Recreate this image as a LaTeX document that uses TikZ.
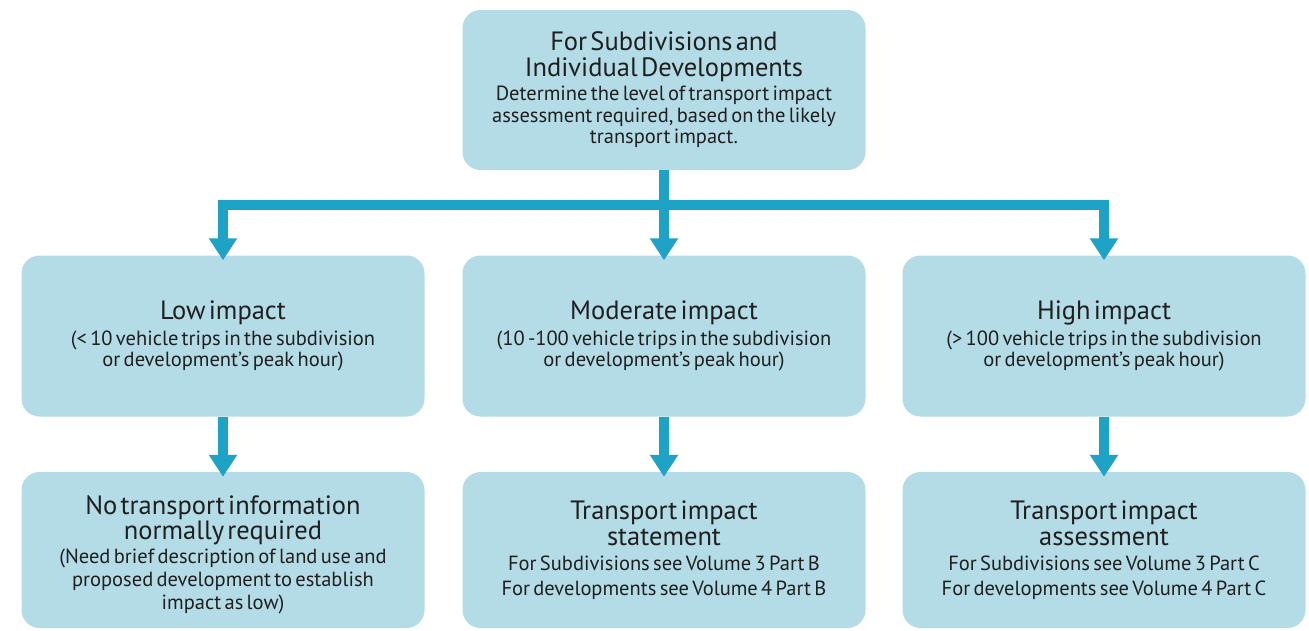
\documentclass[tikz,border=0pt]{standalone}
\usepackage{fontspec}
\setmainfont{PT Sans}
\usepackage{tikz}
\usetikzlibrary{arrows.meta}
\definecolor{boxblue}{RGB}{180,220,231}
\definecolor{flowblue}{RGB}{30,162,197}
\def\Hsize{\fontsize{26.5}{25.8}\selectfont}
\def\Tsize{\fontsize{20.5}{21.8}\selectfont}

\begin{document}
\begin{tikzpicture}[x=1pt,y=-1pt,
  box/.style={fill=boxblue,rounded corners=18pt,minimum width=403pt,
    text width=395pt,inner sep=0pt,align=center,text=black!88},
  flow/.style={draw=flowblue,line width=10pt,shorten >=-5pt,
    -{Triangle[width=27pt,length=22pt]}}]
\useasboundingbox (0,0) rectangle (1309,630);
\node[box,minimum height=160pt] (top) at (664,90)
  {\Hsize For Subdivisions and\\ Individual Developments\par
   \Tsize\vspace{2pt}Determine the level of transport impact\\ assessment required, based on the likely\\ transport impact.\par};
\node[box,minimum height=161pt] (low) at (223,336)
  {\Hsize Low impact\par
   \Tsize\vspace{4pt}(< 10 vehicle trips in the subdivision\\ or development’s peak hour)\par};
\node[box,minimum height=161pt] (moderate) at (664,336)
  {\Hsize Moderate impact\par
   \Tsize\vspace{4pt}(10 -100 vehicle trips in the subdivision\\ or development’s peak hour)\par};
\node[box,minimum height=161pt] (high) at (1104,336)
  {\Hsize High impact\par
   \Tsize\vspace{4pt}(> 100 vehicle trips in the subdivision\\ or development’s peak hour)\par};
\node[box,minimum height=156pt] (none) at (223,550)
  {\Hsize No transport information\\ normally required\par
   \Tsize\vspace{2pt}(Need brief description of land use and\\[1pt] proposed development to establish\\[1pt] impact as low)\par\vspace{-9pt}};
\node[box,minimum height=156pt] (statement) at (664,550)
  {\Hsize Transport impact\\ statement\par
   \Tsize\vspace{3pt}For Subdivisions see Volume 3 Part B\\[3pt] For developments see Volume 4 Part B\par};
\node[box,minimum height=156pt] (assessment) at (1104,550)
  {\Hsize Transport impact\\ assessment\par
   \Tsize\vspace{3pt}For Subdivisions see Volume 3 Part C\\[3pt] For developments see Volume 4 Part C\par};
% branching from the top box
\coordinate (split) at (664,205);
\draw[flow] (split) -| (low);
\draw[flow] (split) -| (high);
\draw[flow] (top) -- (moderate);
% down to the outcomes
\draw[flow] (low) -- (none);
\draw[flow] (moderate) -- (statement);
\draw[flow] (high) -- (assessment);
\end{tikzpicture}
\end{document}
